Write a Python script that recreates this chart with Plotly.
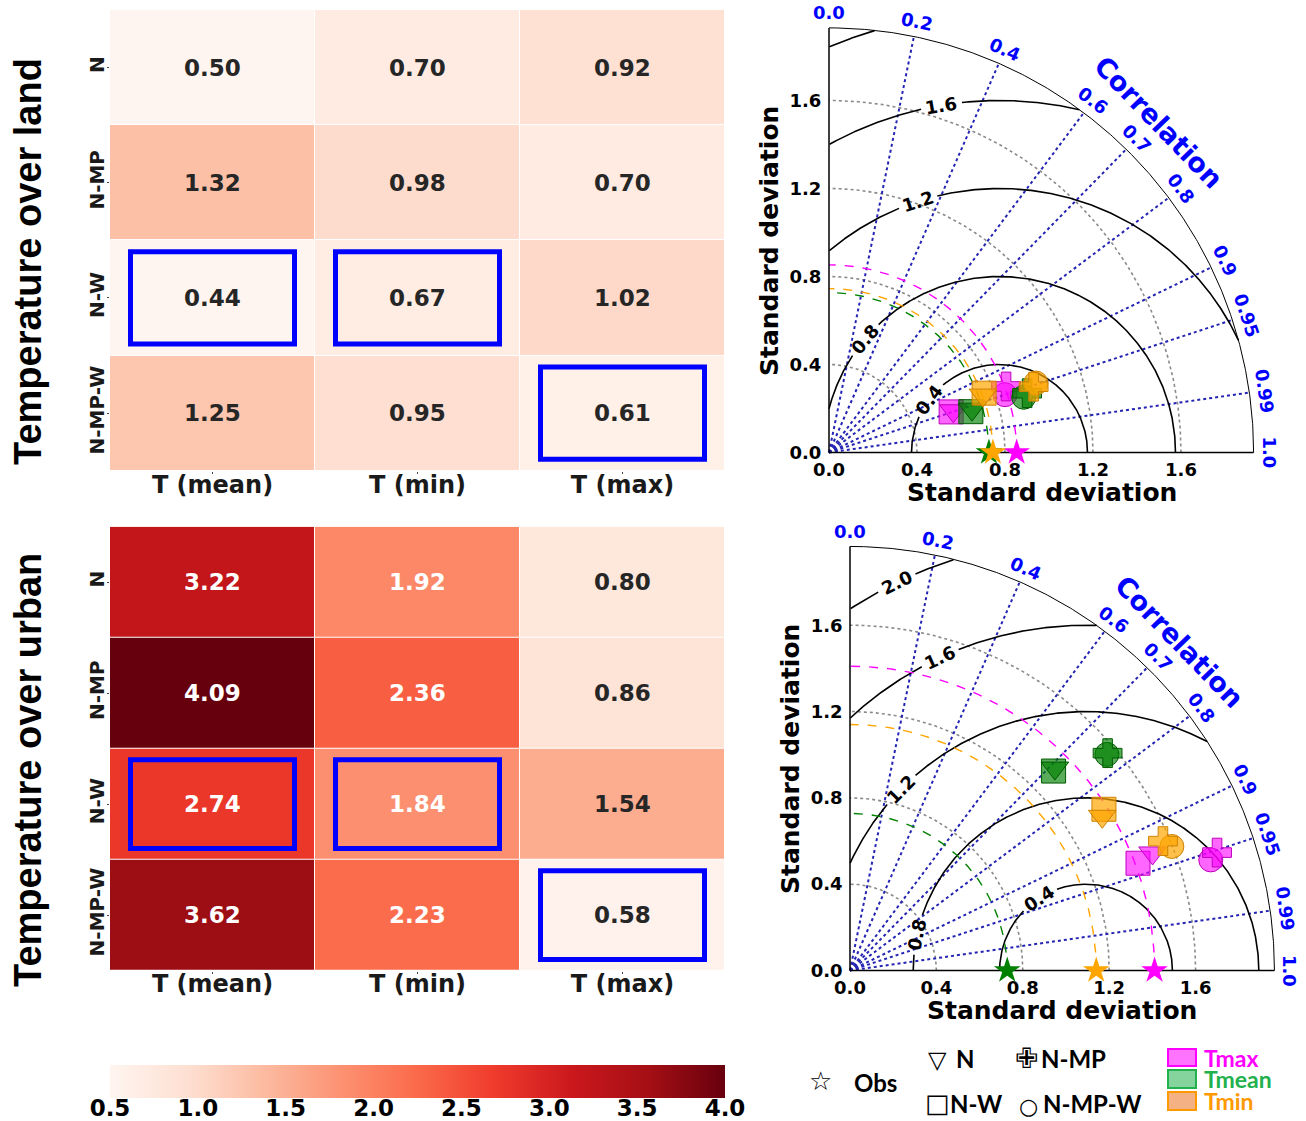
import numpy as np
import plotly.graph_objects as go
import plotly.colors as pcol

W, H = 1306, 1121

# ---------------- data ----------------
experiments = ["N", "N-MP", "N-W", "N-MP-W"]
periods = ["T (mean)", "T (min)", "T (max)"]

rmse_land = [[0.50, 0.70, 0.92],
             [1.32, 0.98, 0.70],
             [0.44, 0.67, 1.02],
             [1.25, 0.95, 0.61]]
rmse_urban = [[3.22, 1.92, 0.80],
              [4.09, 2.36, 0.86],
              [2.74, 1.84, 1.54],
              [3.62, 2.23, 0.58]]
cbar_ticks = [0.5, 1.0, 1.5, 2.0, 2.5, 3.0, 3.5, 4.0]
cbar_range = [0.5, 4.0]

variables = ["Tmax", "Tmean", "Tmin"]

# Taylor diagram data, experiment order: N, N-MP, N-W, N-MP-W
land_obs_std = [0.853, 0.727, 0.745]          # Tmax, Tmean, Tmin
land_tmax_std = [0.596, 0.859, 0.585, 0.842]
land_tmax_cor = [0.948, 0.937, 0.949, 0.950]
land_tmean_std = [0.679, 0.940, 0.671, 0.920]
land_tmean_cor = [0.957, 0.958, 0.961, 0.962]
land_tmin_std = [0.747, 0.977, 0.755, 0.992]
land_tmin_cor = [0.937, 0.952, 0.934, 0.948]

urban_obs_std = [1.41, 0.728, 1.14]
urban_tmax_std = [1.503, 1.785, 1.423, 1.747]
urban_tmax_cor = [0.932, 0.952, 0.937, 0.956]
urban_tmean_std = [1.334, 1.561, 1.320, 1.555]
urban_tmean_cor = [0.711, 0.764, 0.714, 0.765]
urban_tmin_std = [1.369, 1.568, 1.393, 1.597]
urban_tmin_cor = [0.853, 0.924, 0.844, 0.933]

std_ticks = [0.0, 0.4, 0.8, 1.2, 1.6]
cor_labels = [0.0, 0.2, 0.4, 0.6, 0.7, 0.8, 0.9, 0.95, 0.99, 1.0]
cor_lines = [0.2, 0.4, 0.6, 0.7, 0.8, 0.9, 0.95, 0.99]
std_grid = [0.4, 0.8, 1.2, 1.6]
rmsd_levels = [0.4, 0.8, 1.2, 1.6, 2.0]

# ---------------- styles ----------------
var_line = {"Tmax": "rgb(190,0,190)", "Tmean": "rgb(0,90,0)", "Tmin": "rgb(205,130,0)"}
var_fill = {"Tmax": "rgba(255,0,255,0.6)", "Tmean": "rgba(0,128,0,0.65)", "Tmin": "rgba(255,165,0,0.7)"}
var_solid = {"Tmax": "#ff00ff", "Tmean": "#008000", "Tmin": "#ffa500"}
exp_symbol = {"N": "triangle-down", "N-MP": "cross", "N-W": "square", "N-MP-W": "circle"}
draw_order = ["N-W", "N", "N-MP-W", "N-MP"]

DJ = "DejaVu Sans"


def fx(px):
    return px / W


def fy(py):
    return 1 - py / H


fig = go.Figure()

# ---------------- heatmaps ----------------
reds = pcol.sequential.Reds
cscale = [[i / (len(reds) - 1), c] for i, c in enumerate(reds)]

heat_panels = [
    (rmse_land, "x", "y", "xaxis", "yaxis", 10, 470.7),
    (rmse_urban, "x2", "y2", "xaxis2", "yaxis2", 526.7, 970.5),
]
annotations = []
shapes = []


def ann(**kw):
    kw.setdefault("xanchor", "center")
    kw.setdefault("yanchor", "middle")
    kw.setdefault("showarrow", False)
    annotations.append(kw)


for z, xa, ya, xk, yk, ytop, ybot in heat_panels:
    fig.add_trace(go.Heatmap(z=z, x=list(range(3)), y=list(range(4)), coloraxis="coloraxis",
                             xgap=1, ygap=1, xaxis=xa, yaxis=ya, hoverinfo="skip"))
    fig.layout[xk] = dict(domain=[fx(110), fx(725)], range=[-0.5, 2.5], tickvals=[0, 1, 2],
                          ticktext=periods, showgrid=False, zeroline=False, showline=False,
                          ticks="outside", ticklen=2, tickcolor="#444", ticklabelstandoff=-10,
                          tickfont=dict(family=DJ, size=24, color="#1a1a1a", weight="bold"),
                          anchor=ya, automargin=False, fixedrange=True)
    fig.layout[yk] = dict(domain=[fy(ybot), fy(ytop)], range=[3.5, -0.5], tickvals=[0, 1, 2, 3],
                          ticktext=experiments, tickangle=-90, showgrid=False, zeroline=False,
                          ticks="outside", ticklen=2, tickcolor="#444", ticklabelstandoff=-5,
                          tickfont=dict(family=DJ, size=20, color="#1a1a1a", weight="bold"),
                          anchor=xa, automargin=False, fixedrange=True)
    for r in range(4):
        for c in range(3):
            v = z[r][c]
            ann(x=c, y=r, xref=xa, yref=ya, text=f"{v:.2f}",
                font=dict(family=DJ, size=23, weight="bold",
                          color="white" if v > 1.7 else "#262626"))
    # highlight the best (lowest) value of each column
    for c in range(3):
        col = [z[r][c] for r in range(4)]
        rb = int(np.argmin(col))
        shapes.append(dict(type="rect", xref=xa, yref=ya, x0=c - 0.4, x1=c + 0.4,
                           y0=rb - 0.4, y1=rb + 0.4, line=dict(color="#0000ff", width=5)))

# shared colour axis; bar drawn by the colorbar, its labels by a matching axis below it
fig.update_layout(coloraxis=dict(
    colorscale=cscale, cmin=cbar_range[0], cmax=cbar_range[1],
    colorbar=dict(orientation="h", x=fx(417.5), xanchor="center", y=fy(1065), yanchor="top",
                  len=615, lenmode="pixels", thickness=33, thicknessmode="pixels",
                  xpad=0, ypad=0, outlinewidth=0, tickvals=cbar_ticks, ticks="",
                  showticklabels=False)))
fig.add_trace(go.Scatter(x=[None], y=[None], xaxis="x5", yaxis="y5", mode="markers",
                         showlegend=False, hoverinfo="skip"))
fig.layout["xaxis5"] = dict(domain=[fx(110), fx(725)], range=cbar_range, tickvals=cbar_ticks,
                            ticktext=[f"{t:.1f}" for t in cbar_ticks], showgrid=False, zeroline=False,
                            showline=False, ticks="", ticklabelstandoff=-4,
                            tickfont=dict(family=DJ, size=23, color="black", weight="bold"),
                            anchor="y5", automargin=False, fixedrange=True)
fig.layout["yaxis5"] = dict(domain=[fy(1096), fy(1065)], range=[0, 1], visible=False,
                            anchor="x5", fixedrange=True)

ann(x=fx(28), y=fy(262), xref="paper", yref="paper", text="Temperature over land", textangle=-90,
    font=dict(family="Liberation Sans", size=38, color="black", weight="bold"))
ann(x=fx(28), y=fy(770), xref="paper", yref="paper", text="Temperature over urban", textangle=-90,
    font=dict(family="Liberation Sans", size=38, color="black", weight="bold"))

# ---------------- Taylor diagrams ----------------
taylor_panels = [
    dict(xa="x3", ya="y3", xk="xaxis3", yk="yaxis3", x0=829, sx=220, y0=452.5, sy=220, R=1.93,
         xr=[-0.03, 2.06], yr=[-0.03, 2.03], obs=land_obs_std,
         data={"Tmax": (land_tmax_std, land_tmax_cor), "Tmean": (land_tmean_std, land_tmean_cor),
               "Tmin": (land_tmin_std, land_tmin_cor)},
         rlab=[(0.4, 143), (0.8, 140), (1.2, 108), (1.6, 99.5)],
         xtitle=(1042, 492), ytitle=(770, 241)),
    dict(xa="x4", ya="y4", xk="xaxis4", yk="yaxis4", x0=850, sx=216, y0=970.5, sy=215.8, R=1.965,
         xr=[-0.03, 2.09], yr=[-0.03, 2.06], obs=urban_obs_std,
         data={"Tmax": (urban_tmax_std, urban_tmax_cor), "Tmean": (urban_tmean_std, urban_tmean_cor),
               "Tmin": (urban_tmin_std, urban_tmin_cor)},
         rlab=[(0.4, 123), (0.8, 168), (1.2, 135.6), (1.6, 115), (2.0, 116)],
         xtitle=(1062, 1010), ytitle=(790, 759)),
]


def line(xs, ys, xa, ya, color, width, dash="solid"):
    fig.add_trace(go.Scatter(x=xs, y=ys, mode="lines", xaxis=xa, yaxis=ya, hoverinfo="skip",
                             line=dict(color=color, width=width, dash=dash), showlegend=False))


for P in taylor_panels:
    xa, ya, R, sx, sy = P["xa"], P["ya"], P["R"], P["sx"], P["sy"]
    fig.layout[P["xk"]] = dict(domain=[fx(P["x0"] + P["xr"][0] * sx), fx(P["x0"] + P["xr"][1] * sx)],
                               range=P["xr"], tickvals=std_ticks, ticktext=[f"{t:.1f}" for t in std_ticks],
                               showgrid=False, zeroline=False, showline=False, ticks="",
                               ticklabelstandoff=-2,
                               tickfont=dict(family=DJ, size=18, color="black", weight="bold"),
                               anchor=ya, automargin=False, fixedrange=True)
    fig.layout[P["yk"]] = dict(domain=[fy(P["y0"] - P["yr"][0] * sy), fy(P["y0"] - P["yr"][1] * sy)],
                               range=P["yr"], tickvals=std_ticks, ticktext=[f"{t:.1f}" for t in std_ticks],
                               showgrid=False, zeroline=False, showline=False, ticks="",
                               tickfont=dict(family=DJ, size=18, color="black", weight="bold"),
                               anchor=xa, automargin=False, fixedrange=True)
    t = np.linspace(0, np.pi / 2, 300)
    # std grid arcs
    for s in std_grid:
        line(s * np.cos(t), s * np.sin(t), xa, ya, "#8a8a8a", 1.6, "dot")
    # correlation rays
    for c in cor_lines:
        th = np.arccos(c)
        line([0, R * np.cos(th)], [0, R * np.sin(th)], xa, ya, "#2424b4", 2, "dot")
    # centered RMS difference contours
    cen = float(np.mean(P["obs"]))
    labmap = dict(P["rlab"])
    phi = np.linspace(0, np.pi, 1441)
    for rho in rmsd_levels:
        xs = cen + rho * np.cos(phi)
        ys = rho * np.sin(phi)
        ok = (xs >= 0) & (xs ** 2 + ys ** 2 <= R ** 2)
        if rho in labmap:
            pl = np.deg2rad(labmap[rho])
            half = 20.0 / (rho * (sx + sy) / 2)
            ok &= np.abs(phi - pl) > half
        xx = [float(a) if k else None for a, k in zip(xs, ok)]
        yy = [float(b) if k else None for b, k in zip(ys, ok)]
        line(xx, yy, xa, ya, "black", 1.6)
        if rho in labmap:
            pl = np.deg2rad(labmap[rho])
            dxp, dyp = -np.sin(pl) * sx, -np.cos(pl) * sy
            ang = float(np.degrees(np.arctan2(dyp, dxp)))
            while ang > 90:
                ang -= 180
            while ang <= -90:
                ang += 180
            ann(x=float(cen + rho * np.cos(pl)), y=float(rho * np.sin(pl)), xref=xa, yref=ya,
                text=f"{rho:.1f}", textangle=ang,
                font=dict(family=DJ, size=18, color="black", weight="bold"))
    # observation std dashed arcs
    for v, s in zip(variables, P["obs"]):
        line(s * np.cos(t), s * np.sin(t), xa, ya, var_solid[v], 1.4, "dash")
    # outer arc and axes
    line(R * np.cos(t), R * np.sin(t), xa, ya, "black", 1)
    line([0, R], [0, 0], xa, ya, "black", 1.5)
    line([0, 0], [0, R], xa, ya, "black", 1.5)
    # correlation labels
    for c in cor_labels:
        th = np.arccos(c)
        rr = R + 0.07
        ang = float(np.degrees(np.arctan2(np.cos(th) * sy, np.sin(th) * sx)))
        ann(x=float(rr * np.cos(th)), y=float(rr * np.sin(th)), xref=xa, yref=ya,
            text=f"{c:g}" if c not in (0.0, 1.0) else f"{c:.1f}", textangle=ang,
            font=dict(family=DJ, size=18, color="#0000ff", weight="bold"))
    ann(x=float((R + 0.19) * np.cos(np.pi / 4)), y=float((R + 0.19) * np.sin(np.pi / 4)),
        xref=xa, yref=ya, text="Correlation", textangle=46,
        font=dict(family=DJ, size=27, color="#0000ff", weight="bold"))
    # model markers
    for v in variables:
        stds, cors = P["data"][v]
        for e in draw_order:
            i = experiments.index(e)
            th = np.arccos(cors[i])
            fig.add_trace(go.Scatter(x=[stds[i] * np.cos(th)], y=[stds[i] * np.sin(th)], mode="markers",
                                     xaxis=xa, yaxis=ya, hoverinfo="skip", showlegend=False,
                                     cliponaxis=False,
                                     marker=dict(symbol=exp_symbol[e], size=24, color=var_fill[v],
                                                 line=dict(color=var_line[v], width=1))))
    # observation stars
    for v, s in zip(variables, P["obs"]):
        fig.add_trace(go.Scatter(x=[s], y=[0], mode="markers", xaxis=xa, yaxis=ya, hoverinfo="skip",
                                 showlegend=False, cliponaxis=False,
                                 marker=dict(symbol="star", size=20, color=var_solid[v],
                                             line=dict(width=0))))
    # axis titles
    ann(x=fx(P["xtitle"][0]), y=fy(P["xtitle"][1]), xref="paper", yref="paper",
        text="Standard deviation", font=dict(family=DJ, size=25, color="black", weight="bold"))
    ann(x=fx(P["ytitle"][0]), y=fy(P["ytitle"][1]), xref="paper", yref="paper",
        text="Standard deviation", textangle=-90,
        font=dict(family=DJ, size=25, color="black", weight="bold"))

# ---------------- legend (bottom right) ----------------
LF = "Lato"


def ptext(x, y, s, size=24, color="black", anchor="center", family=LF, weight="bold"):
    ann(x=fx(x), y=fy(y), xref="paper", yref="paper", text=s, xanchor=anchor,
        font=dict(family=family, size=size, color=color, weight=weight))


ptext(820, 1081, "☆", size=26, family=DJ, weight="normal")
ptext(875, 1082, "Obs")
ptext(937, 1060, "▽", size=24, family=DJ, weight="normal")
ptext(954, 1058, "N", anchor="left")
ptext(1026, 1058, "✙", size=28, family=DJ, weight="normal")
ptext(1039, 1058, "N-MP", anchor="left")
ptext(937, 1103, "□", size=26, family=DJ, weight="normal")
ptext(948, 1103, "N-W", anchor="left")
ptext(1028, 1106, "○", size=22, family=DJ, weight="normal")
ptext(1041, 1103, "N-MP-W", anchor="left")

leg_boxes = [("Tmax", 1049, 1066, "rgba(255,0,255,0.55)", "#ff00ff", "#ff00ff"),
             ("Tmean", 1070, 1088, "rgba(34,177,76,0.55)", "#22b14c", "#22b14c"),
             ("Tmin", 1092, 1110, "rgba(244,177,131,1)", "#ff9900", "#ff9900")]
for name, y0, y1, fill, edge, tcol in leg_boxes:
    shapes.append(dict(type="rect", xref="paper", yref="paper", x0=fx(1168), x1=fx(1196),
                       y0=fy(y1), y1=fy(y0), fillcolor=fill, line=dict(color=edge, width=2)))
    ptext(1202, (y0 + y1) / 2, name, size=23, color=tcol, anchor="left")

fig.update_layout(width=W, height=H, autosize=False,
                  margin=dict(l=0, r=0, t=0, b=0, autoexpand=False),
                  paper_bgcolor="white", plot_bgcolor="white", template="none",
                  showlegend=False, annotations=annotations, shapes=shapes)

fig.write_html("out.html")
